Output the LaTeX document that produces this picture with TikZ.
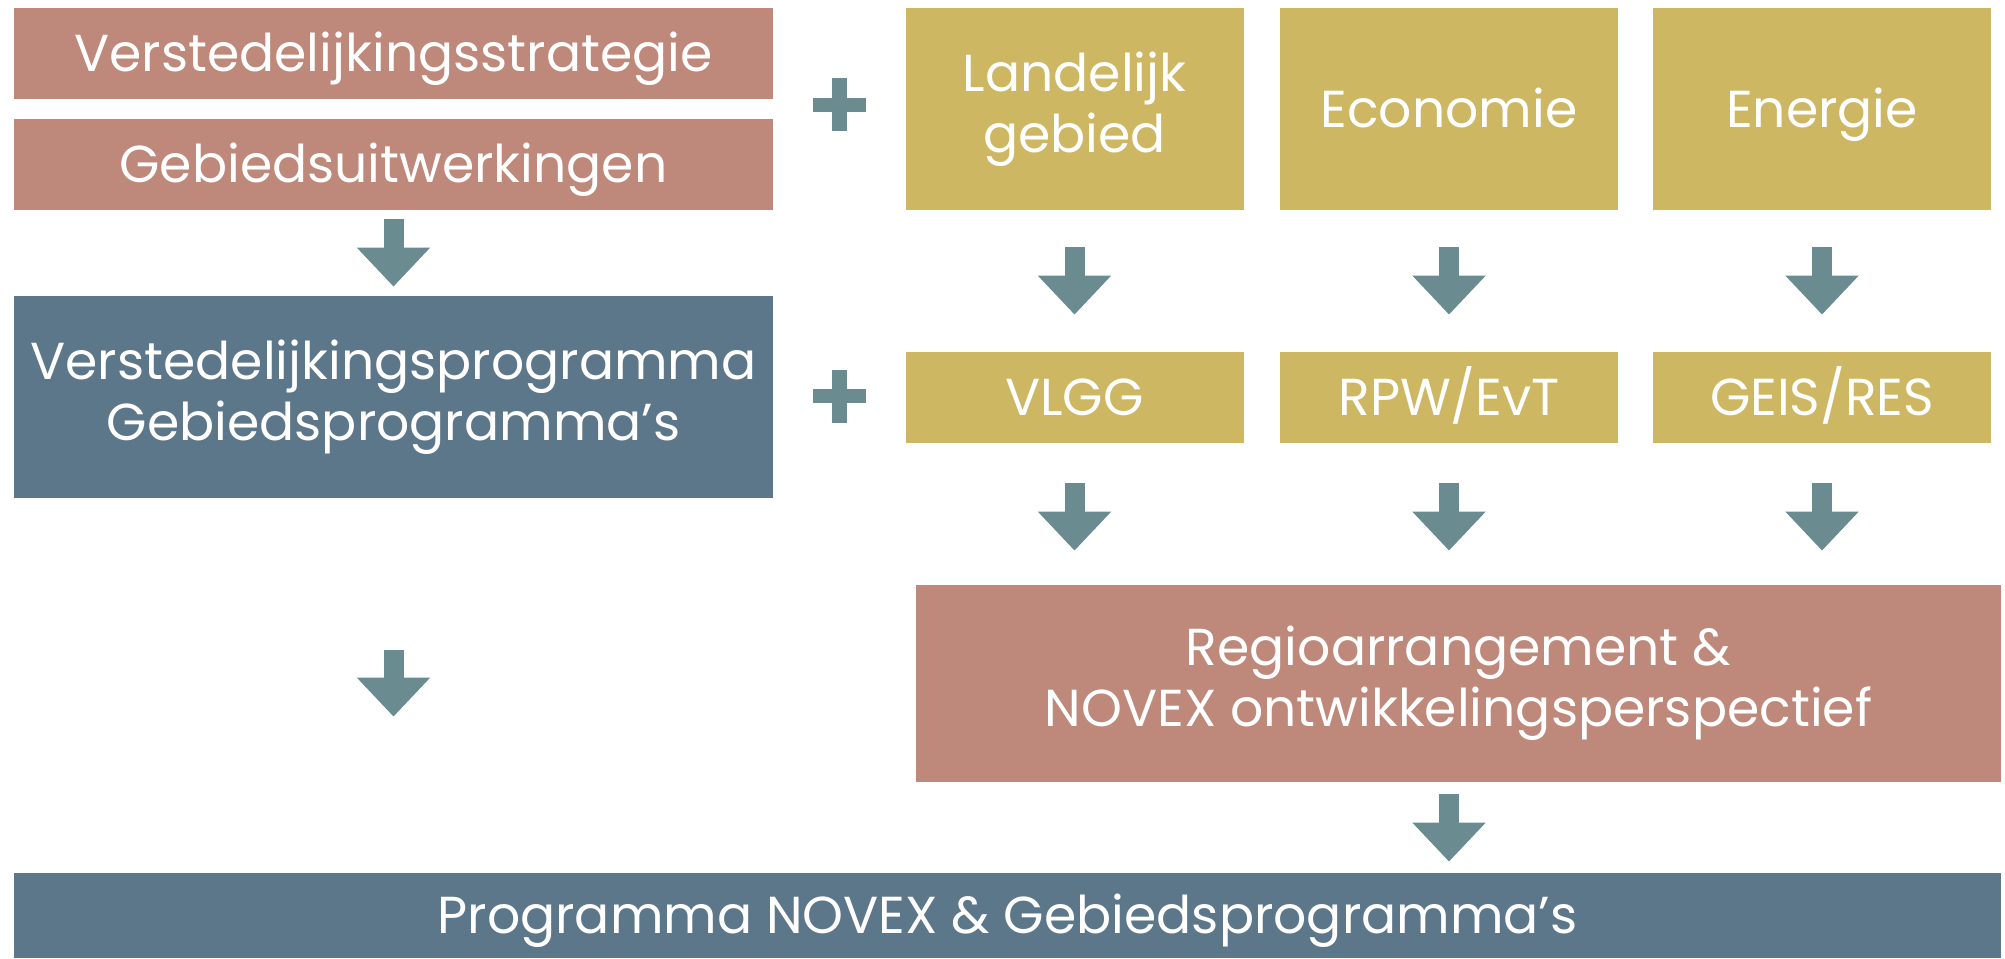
\documentclass[tikz,border=0pt]{standalone}
\usepackage{fontspec}
\setmainfont{Poppins}
\usepackage{xcolor}
\usetikzlibrary{arrows.meta, positioning, calc}
\definecolor{mrose}{RGB}{190,136,122}
\definecolor{mgold}{RGB}{205,183,99}
\definecolor{mslate}{RGB}{93,119,138}
\definecolor{mteal}{RGB}{106,140,145}

\begin{document}
\begin{tikzpicture}[x=0.5pt, y=-0.5pt,
  box/.style={inner sep=0pt, align=center, text=white,
    font=\fontsize{26}{30.5}\selectfont},
  oneline/.style={text height=20pt, text depth=2pt},
  rose/.style={box, fill=mrose},
  gold/.style={box, fill=mgold, minimum width=169pt},
  slate/.style={box, fill=mslate},
  flow/.style={-{Triangle[length=19.5pt, width=35.5pt]}, line width=10pt, draw=mteal},
  plus/.style={fill=mteal}]

  \useasboundingbox (0,0) rectangle (2005,958);

  % ── LEFT COLUMN ── strategy and programmes
  \node[rose, oneline, minimum width=379.5pt, minimum height=45.5pt] (strat) at (393.5,53.5)
    {Verstedelijkingsstrategie};
  \node[rose, oneline, minimum width=379.5pt, minimum height=45.5pt] (uitw) at (393.5,164.5)
    {Gebiedsuitwerkingen};
  \node[slate, minimum width=379.5pt, minimum height=101pt] (vprog) at (393.5,397)
    {Verstedelijkingsprogramma\\Gebiedsprogramma’s};

  % ── THEMES ── top row
  \node[gold, minimum height=101pt] (land) at (1074.5,109) {Landelijk\\gebied};
  \node[gold, oneline, minimum height=101pt] (econ) at (1449,109) {Economie};
  \node[gold, oneline, minimum height=101pt] (energ) at (1822,109) {Energie};

  % ── THEME PROGRAMMES ── second row
  \node[gold, oneline, minimum height=45.5pt] (vlgg) at (1074.5,397.5) {VLGG};
  \node[gold, oneline, minimum height=45.5pt] (rpw) at (1449,397.5) {RPW/EvT};
  \node[gold, oneline, minimum height=45.5pt] (geis) at (1822,397.5) {GEIS/RES};

  % ── REGION ──
  \node[rose, minimum width=542.5pt, minimum height=98.5pt] (regio) at (1458.5,683.5)
    {Regioarrangement \&\\NOVEX ontwikkelingsperspectief};

  % ── RESULT ──
  \node[slate, oneline, minimum width=993.5pt, minimum height=42.5pt] (novex) at (1007.5,915.5)
    {Programma NOVEX \& Gebiedsprogramma’s};

  % plus signs
  \foreach \py in {104.5, 396} {
    \fill[plus] (813,\py-7) rectangle (866,\py+7);
    \fill[plus] (832,\py-26.5) rectangle (847,\py+26.5);
  }

  % ── FLOW ARROWS ──
  \draw[flow, shorten <=4.5pt, shorten >=4.5pt] (uitw) -- (vprog);
  \foreach \a/\b in {land/vlgg, econ/rpw, energ/geis}
    \draw[flow, shorten <=18.5pt, shorten >=18.5pt] (\a) -- (\b);
  \foreach \a in {vlgg, rpw, geis}
    \draw[flow, shorten <=20pt, shorten >=17pt] (\a.south) -- (\a.south |- regio.north);
  \draw[flow, shorten <=76pt, shorten >=78pt] (vprog.south) -- (vprog.south |- novex.north);
  \draw[flow, shorten <=6pt, shorten >=5.5pt] (regio.south -| rpw) -- (novex.north -| rpw);

\end{tikzpicture}
\end{document}
